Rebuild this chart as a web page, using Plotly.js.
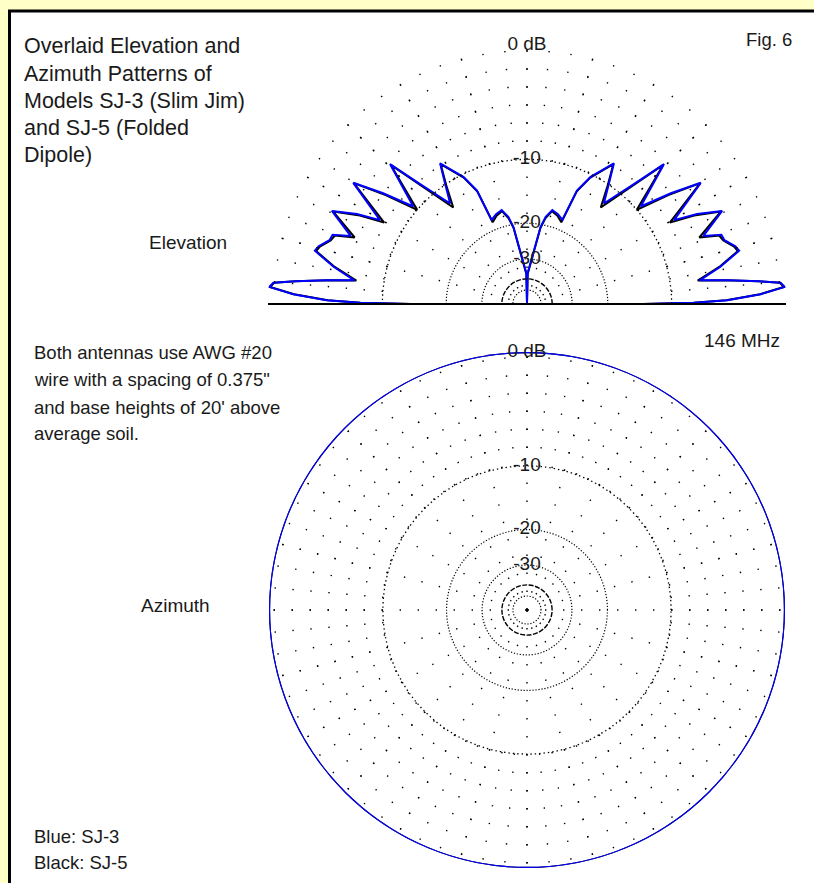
<!DOCTYPE html>
<html><head><meta charset="utf-8">
<script src="https://cdn.plot.ly/plotly-3.0.1.min.js"></script>
<style>html,body{margin:0;padding:0;background:#FFFFC8;} #chart{width:814px;height:883px;}</style>
</head><body><div id="chart"></div>
<script>
// ---------------- DATA ----------------
// Elevation plane: theta 0 = right horizon, 90 = zenith, 180 = left horizon. Gain in dB (normalised).
const elevTheta = [0,0.05,0.45,1.1,2.4,3.8,4.8,5.6,6.8,7.8,10.9,14.1,15.5,17.9,19.6,21.1,25.5,27.9,29.7,34.9,37.6,40.6,45.6,48.3,52.6,55.8,58.3,63.4,66.2,67.2,71,74.9,77.9,80,88.8,90,
  91.2,100,102.1,105.1,109,112.8,113.8,116.6,121.7,124.2,127.4,131.7,134.4,139.4,142.4,145.1,150.3,152.1,154.5,158.9,160.4,162.1,164.5,165.9,169.1,172.2,173.2,174.4,175.2,176.2,177.6,178.9,179.55,179.95,180];
const elevSJ3 = [-99,-13.6,-7.5,-4.4,-1.75,-0.05,-0.3,-1.8,-4.3,-6.8,-4.7,-2.9,-3.1,-3.8,-3.9,-5.4,-3.1,-5.1,-7.3,-3.45,-6.1,-9.4,-4.8,-8.2,-12.3,-9.85,-7.7,-10.3,-12.6,-17.9,-17.2,-16.8,-18.3,-20.5,-36.6,-99,
  -36.6,-20.5,-18.3,-16.8,-17.2,-17.9,-12.6,-10.3,-7.7,-9.85,-12.3,-8.2,-4.8,-9.4,-6.1,-3.45,-7.3,-5.1,-3.1,-5.4,-3.9,-3.8,-3.1,-2.9,-4.7,-6.8,-4.3,-1.8,-0.3,-0.05,-1.75,-4.4,-7.5,-13.6,-99];
const elevSJ5 = [-99,-13.8,-7.6,-4.5,-1.8,-0.1,-0.35,-1.85,-4.4,-7.0,-4.8,-3.0,-3.2,-3.9,-4.1,-5.8,-3.2,-5.4,-7.8,-3.5,-6.4,-10.0,-4.9,-8.5,-13.0,-10.1,-7.8,-10.4,-12.8,-18.4,-17.5,-17.0,-18.6,-20.8,-37,-99,
  -37,-20.8,-18.6,-17.0,-17.5,-18.4,-12.8,-10.4,-7.8,-10.1,-13.0,-8.5,-4.9,-10.0,-6.4,-3.5,-7.8,-5.4,-3.2,-5.8,-4.1,-3.9,-3.2,-3.0,-4.8,-7.0,-4.4,-1.85,-0.35,-0.1,-1.8,-4.5,-7.6,-13.8,-99];

// Azimuth plane (omnidirectional)
const azTheta = [0,10,20,30,40,50,60,70,80,90,100,110,120,130,140,150,160,170,180,190,200,210,220,230,240,250,260,270,280,290,300,310,320,330,340,350,360];
const azSJ3 = [0,0,0,0,0,0,0,0,0,0,0,0,0,0,0,0,0,0,0,0,0,0,0,0,0,0,0,0,0,0,0,0,0,0,0,0,0];
const azSJ5 = [0,0,0,0,0,0,0,0,0,0,0,0,0,0,0,0,0,0,0,0,0,0,0,0,0,0,0,0,0,0,0,0,0,0,0,0,0];

// Grid rings (dB) and labels
const ringLabelDb = [0,-10,-20,-30];
const ringLabels = ['0 dB','-10','-20','-30'];
const fineRingDb = [-20,-30,-50];
const outerRingDb = [0];
const midRingDb = [-10];
const dashRingDb = [-40];

// ---------------- SCALE (ARRL log-periodic: 0.89 per 2 dB) ----------------
function arrl(db){ return Math.min(0.9995, Math.pow(0.89, -db/2)); }

// ---------------- LAYOUT HELPERS ----------------
const W=814, H=883;
const FONT = 'Liberation Sans, Arial, sans-serif';
const TXT = '#1a1a1a';
function dom(cx, cy, R, half){
  const yTop = cy - R, yBot = half ? cy : cy + R;
  return {x:[(cx-R)/W, (cx+R)/W], y:[1-yBot/H, 1-yTop/H]};
}
function basePolar(d, sector){
  return {domain:d, sector:sector, bgcolor:'rgba(0,0,0,0)',
    radialaxis:{range:[0,1], visible:true, showline:false, showticklabels:false, ticks:'', showgrid:false, tickmode:'array', tickvals:[]},
    angularaxis:{visible:true, showline:false, showticklabels:false, ticks:'', showgrid:false}};
}
function ringPolar(d, sector, dbs, dash, width){
  const p = basePolar(d, sector);
  p.radialaxis.showgrid = true; p.radialaxis.tickvals = dbs.map(arrl);
  p.radialaxis.gridcolor = '#000'; p.radialaxis.gridwidth = width; p.radialaxis.griddash = dash;
  p.angularaxis.visible = false;
  return p;
}
function spokePolar(d, sector, hole){
  const p = basePolar(d, sector);
  p.hole = hole;
  p.radialaxis.visible = false;
  p.angularaxis.showgrid = true; p.angularaxis.tickmode='linear'; p.angularaxis.tick0=0; p.angularaxis.dtick=5;
  p.angularaxis.gridcolor='#000'; p.angularaxis.gridwidth=1.4; p.angularaxis.griddash='1.4px,16.6px';
  return p;
}
function mainPolar(d, sector, groundLine){
  const p = basePolar(d, sector);
  p.radialaxis.showgrid = true; p.radialaxis.tickvals = fineRingDb.map(arrl);
  p.radialaxis.gridcolor='#000'; p.radialaxis.gridwidth=1.2; p.radialaxis.griddash='1.2px,1.8px';
  if (groundLine){ p.radialaxis.showline = true; p.radialaxis.linecolor='#000'; p.radialaxis.linewidth=2; p.radialaxis.angle=0; }
  p.angularaxis.showgrid = true; p.angularaxis.tickmode='linear'; p.angularaxis.tick0=0; p.angularaxis.dtick=15;
  p.angularaxis.gridcolor='#000'; p.angularaxis.gridwidth=1.4; p.angularaxis.griddash='1.4px,16.6px';
  return p;
}

const elevDom = dom(527, 304, 259, true);
const azDom = dom(527, 610, 258, false);
const ES = [0,180], AS = [0,360];

const layout = {
  width: W, height: H, margin:{l:0,r:0,t:0,b:0},
  paper_bgcolor:'#FFFFC8', showlegend:false,
  font:{family:FONT, size:18, color:TXT},
  polar:  mainPolar(elevDom, ES, true),
  polar2: spokePolar(elevDom, ES, arrl(-10)),
  polar3: ringPolar(elevDom, ES, outerRingDb, '2px,8.5px', 1.4),
  polar4: ringPolar(elevDom, ES, midRingDb, '1.4px,3px', 1.3),
  polar5: ringPolar(elevDom, ES, dashRingDb, '5px,1.5px', 1.4),
  polar6: mainPolar(azDom, AS, false),
  polar7: spokePolar(azDom, AS, arrl(-10)),
  polar8: ringPolar(azDom, AS, outerRingDb, '2px,8.5px', 1.4),
  polar9: ringPolar(azDom, AS, midRingDb, '1.4px,3px', 1.3),
  polar10: ringPolar(azDom, AS, dashRingDb, '5px,1.5px', 1.4),
  shapes:[{type:'rect', xref:'paper', yref:'paper', x0:9.5/W, x1:1.02, y0:-0.02, y1:1-11/H,
           line:{color:'#000', width:3}, fillcolor:'#FFFFFF', layer:'below'}],
  annotations:[]
};
// ground line left half (radial axis at 180 deg)
layout.polar3.radialaxis.showline = true; layout.polar3.radialaxis.linecolor = '#000';
layout.polar3.radialaxis.linewidth = 2; layout.polar3.radialaxis.angle = 180;

function txt(s, x, y, size, anchor){
  layout.annotations.push({text:s, xref:'paper', yref:'paper', x:x/W, y:1-y/H, xanchor:anchor||'left', yanchor:'middle',
    showarrow:false, font:{family:FONT, size:size, color:TXT}});
}
txt('Overlaid Elevation and', 22, 46, 21.5);
txt('Azimuth Patterns of', 22, 74, 21.5);
txt('Models SJ-3 (Slim Jim)', 22, 101, 21.5);
txt('and SJ-5 (Folded', 22, 128, 21.5);
txt('Dipole)', 22, 155, 21.5);
txt('Fig. 6', 794, 39, 18.5, 'right');
txt('Elevation', 147, 243, 19);
txt('146 MHz', 782, 340, 19, 'right');
txt('Both antennas use AWG #20', 32, 353, 18.5);
txt('wire with a spacing of 0.375"', 32, 380, 18.5);
txt("and base heights of 20' above", 32, 407, 18.5);
txt('average soil.', 32, 433, 18.5);
txt('Azimuth', 139, 605, 19);
txt('Blue: SJ-3', 32, 836, 18.5);
txt('Black: SJ-5', 32, 862, 18.5);

const empty = s => ({type:'scatterpolar', r:[], theta:[], subplot:s, hoverinfo:'skip', showlegend:false});
const labelTrace = s => ({type:'scatterpolar', mode:'text', subplot:s, r:ringLabelDb.map(arrl), theta:ringLabelDb.map(()=>90),
  text:ringLabels, textposition:'middle center', cliponaxis:false, hoverinfo:'skip',
  textfont:{family:FONT, size:19, color:TXT}});

const data = [
  {type:'scatterpolar', mode:'lines', subplot:'polar', r:elevSJ5.map(arrl), theta:elevTheta, line:{color:'#000000', width:2}, cliponaxis:false, hoverinfo:'skip', name:'SJ-5'},
  {type:'scatterpolar', mode:'lines', subplot:'polar', r:elevSJ3.map(arrl), theta:elevTheta, line:{color:'#0000FF', width:2}, cliponaxis:false, hoverinfo:'skip', name:'SJ-3'},
  empty('polar2'), empty('polar3'), empty('polar4'), labelTrace('polar5'),
  {type:'scatterpolar', mode:'lines', subplot:'polar6', r:azSJ5.map(arrl), theta:azTheta, line:{color:'#000000', width:2, shape:'spline'}, cliponaxis:false, hoverinfo:'skip', name:'SJ-5'},
  {type:'scatterpolar', mode:'lines', subplot:'polar6', r:azSJ3.map(arrl), theta:azTheta, line:{color:'#0000FF', width:2, shape:'spline'}, cliponaxis:false, hoverinfo:'skip', name:'SJ-3'},
  empty('polar7'), empty('polar8'), empty('polar9'), labelTrace('polar10')
];

Plotly.newPlot('chart', data, layout, {staticPlot:true, displayModeBar:false});
</script>
</body></html>
